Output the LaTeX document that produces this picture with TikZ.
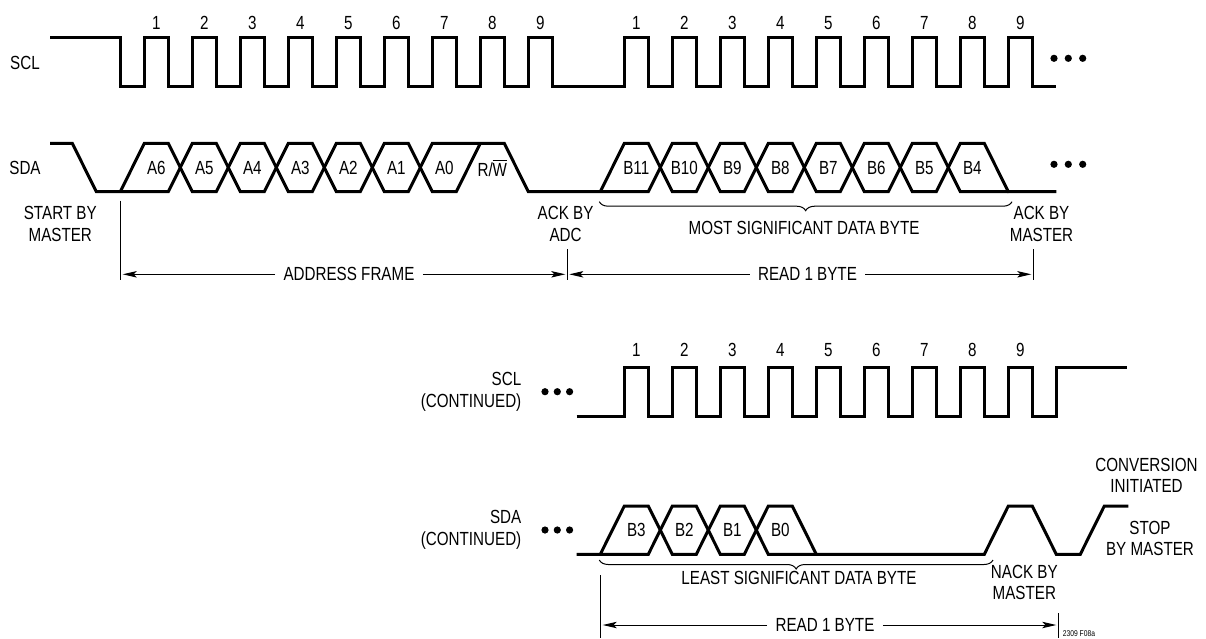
\documentclass[tikz,border=0pt]{standalone}
\usepackage{fontspec}
\setmainfont{Liberation Sans}[FakeStretch=0.8]
\usepackage{tikz}
\usetikzlibrary{arrows.meta, decorations.pathreplacing}

\newcommand{\lblfont}{\fontsize{9.5}{10.8}\selectfont}
\newcommand{\tinyfont}{\fontsize{4.2}{5}\selectfont}
% signal levels (picture units are half points, y runs downwards)
\newcommand{\topSCLh}{37.3}
\newcommand{\topSCLl}{86}
\newcommand{\topSDAh}{143.3}
\newcommand{\topSDAl}{191.7}
\newcommand{\botSCLh}{367.3}
\newcommand{\botSCLl}{416}
\newcommand{\botSDAh}{506}
\newcommand{\botSDAl}{554.3}

\begin{document}
\begin{tikzpicture}[x=0.5pt, y=-0.5pt,
  wave/.style={line width=1.5pt, line join=miter},
  dimline/.style={line width=0.5pt},
  dimarrow/.style={line width=0.5pt, shorten >=1pt, -{Stealth[length=7pt, width=3.2pt, inset=1.5pt]}},
  lbl/.style={font=\lblfont, align=center, inner sep=0pt},
  dimtext/.style={font=\lblfont, inner xsep=4pt, inner ysep=0pt},
  brc/.style={line width=0.5pt, decorate, decoration={brace, mirror, amplitude=4.5pt}}]
  \useasboundingbox (0,0) rectangle (1206,638);

  % SCL, address byte and most significant byte
  \node[lbl] (scl) at (25,63.3) {SCL};
  \draw[wave] (50,\topSCLh) -- (120.3,\topSCLh) -- (120.3,\topSCLl)
    \foreach \i in {0,1,2,3,4,5,6,7,8,10,11,12,13,14,15,16,17,18} {
      -- (144.3+48*\i,\topSCLl) -- (144.3+48*\i,\topSCLh) -- (168.3+48*\i,\topSCLh) -- (168.3+48*\i,\topSCLl)}
    -- (1056.3,\topSCLl);
  \foreach \i [count=\n] in {0,...,8} {
    \node[lbl] (clkA\n) at (156.3+48*\i,22.7) {\n};
    \node[lbl] (clkB\n) at (636.3+48*\i,22.7) {\n};
  }
  \foreach \x in {1054,1068.3,1082.7} \fill (\x,58.3) circle[radius=1.8pt];

  % SDA: start, A6..A0, R/W, ack, B11..B4
  \node[lbl] (sda) at (25,168.3) {SDA};
  \draw[wave] (50,\topSDAh) -- (72.3,\topSDAh) -- (96.3,\topSDAl) -- (168.3,\topSDAl)
    \foreach \x in {168.3,264.3,360.3} {
      -- (\x+24,\topSDAh) -- (\x+48,\topSDAh) -- (\x+72,\topSDAl) -- (\x+96,\topSDAl)}
    -- (480.3,\topSDAh);
  \draw[wave] (120.3,\topSDAl) -- (144.3,\topSDAh) -- (168.3,\topSDAh)
    \foreach \x in {168.3,264.3,360.3} {
      -- (\x+24,\topSDAl) -- (\x+48,\topSDAl) -- (\x+72,\topSDAh) -- (\x+96,\topSDAh)}
    -- (504.3,\topSDAh) -- (528.3,\topSDAl) -- (648.3,\topSDAl)
    \foreach \x in {648.3,744.3,840.3} {
      -- (\x+24,\topSDAh) -- (\x+48,\topSDAh) -- (\x+72,\topSDAl) -- (\x+96,\topSDAl)}
    -- (960.3,\topSDAh) -- (984.3,\topSDAh) -- (1008.3,\topSDAl) -- (1056.3,\topSDAl);
  \draw[wave] (600.3,\topSDAl) -- (624.3,\topSDAh) -- (648.3,\topSDAh)
    \foreach \x in {648.3,744.3,840.3} {
      -- (\x+24,\topSDAl) -- (\x+48,\topSDAl) -- (\x+72,\topSDAh) -- (\x+96,\topSDAh)}
    -- (960.3,\topSDAl) -- (1008.3,\topSDAl);
  \foreach \b [count=\k from 0] in {A6,A5,A4,A3,A2,A1,A0}
    \node[lbl] (bit\b) at (156.3+48*\k,168.3) {\b};
  \node[lbl] (bitRW) at (492.3,168.3) {R/$\overline{\hbox{W}}$};
  \foreach \b [count=\k from 0] in {B11,B10,B9,B8,B7,B6,B5,B4}
    \node[lbl] (bit\b) at (636.3+48*\k,168.3) {\b};
  \foreach \x in {1054,1068.3,1082.7} \fill (\x,164.3) circle[radius=1.8pt];

  % labels under SDA
  \node[lbl] (startlbl) at (60.3,224.2) {START BY\\MASTER};
  \node[lbl] (acklbl) at (565.6,224.2) {ACK BY\\ADC};
  \node[lbl] (msblbl) at (804,228.3) {MOST SIGNIFICANT DATA BYTE};
  \node[lbl] (ackmlbl) at (1041.5,224.2) {ACK BY\\MASTER};
  \coordinate (msbL) at (599.3,201.7);
  \coordinate (msbR) at (1012,201.7);
  \draw[brc] (msbL) -- (msbR);

  % frame dimensions
  \coordinate (extA0) at (120.7,200.7);  \coordinate (extA1) at (120.7,280);
  \coordinate (extB0) at (567.3,249.3);  \coordinate (extB1) at (567.3,280);
  \coordinate (extC0) at (1033.3,249.3); \coordinate (extC1) at (1033.3,280);
  \draw[dimline] (extA0) -- (extA1);
  \draw[dimline] (extB0) -- (extB1);
  \draw[dimline] (extC0) -- (extC1);
  \coordinate (tipA) at (120.7,274.3);
  \coordinate (tipB) at (567.3,274.3);
  \coordinate (tipC) at (1033.3,274.3);
  \node[dimtext] (addr) at (349,274.3) {ADDRESS FRAME};
  \draw[dimarrow] (addr.west) -- (tipA);
  \draw[dimarrow] (addr.east) -- (tipB);
  \node[dimtext] (readA) at (807.5,274.3) {READ 1 BYTE};
  \draw[dimarrow] (readA.west) -- (tipB);
  \draw[dimarrow] (readA.east) -- (tipC);

  % SCL continued
  \node[lbl, align=right, anchor=east] (sclc) at (521.7,391.7) {SCL\\(CONTINUED)};
  \foreach \x in {545,557.3,569.6} \fill (\x,391.7) circle[radius=1.8pt];
  \draw[wave] (576.7,\botSCLl)
    \foreach \i in {0,...,8} {
      -- (624.3+48*\i,\botSCLl) -- (624.3+48*\i,\botSCLh) -- (648.3+48*\i,\botSCLh) -- (648.3+48*\i,\botSCLl)}
    -- (1056.3,\botSCLl) -- (1056.3,\botSCLh) -- (1127,\botSCLh);
  \foreach \i [count=\n] in {0,...,8}
    \node[lbl] (clkC\n) at (636.3+48*\i,350) {\n};

  % SDA continued: B3..B0, nack, stop
  \node[lbl, align=right, anchor=east] (sdac) at (521.7,530) {SDA\\(CONTINUED)};
  \foreach \x in {545,557.3,569.6} \fill (\x,530) circle[radius=1.8pt];
  \draw[wave] (576.7,\botSDAl) -- (648.3,\botSDAl) -- (672.3,\botSDAh) -- (696.3,\botSDAh)
    -- (720.3,\botSDAl) -- (744.3,\botSDAl) -- (768.3,\botSDAh) -- (792.3,\botSDAh)
    -- (816.3,\botSDAl) -- (984.3,\botSDAl) -- (1008.3,\botSDAh) -- (1032.3,\botSDAh)
    -- (1056.3,\botSDAl) -- (1080.3,\botSDAl) -- (1104.3,\botSDAh) -- (1128.3,\botSDAh);
  \draw[wave] (600.3,\botSDAl) -- (624.3,\botSDAh) -- (648.3,\botSDAh) -- (672.3,\botSDAl)
    -- (696.3,\botSDAl) -- (720.3,\botSDAh) -- (744.3,\botSDAh) -- (768.3,\botSDAl) -- (816.3,\botSDAl);
  \foreach \b [count=\k from 0] in {B3,B2,B1,B0}
    \node[lbl] (bit\b) at (636.3+48*\k,530) {\b};

  % labels round the stop
  \node[lbl] (convlbl) at (1146.5,475.5) {CONVERSION\\INITIATED};
  \node[lbl] (stoplbl) at (1150,538.3) {STOP\\BY MASTER};
  \node[lbl] (nacklbl) at (1024.3,582.5) {NACK BY\\MASTER};
  \node[lbl] (lsblbl) at (799,578.3) {LEAST SIGNIFICANT DATA BYTE};
  \coordinate (lsbL) at (599.3,560);
  \coordinate (lsbR) at (993,560);
  \draw[brc] (lsbL) -- (lsbR);

  % last byte dimension
  \coordinate (extD0) at (600.7,575);    \coordinate (extD1) at (600.7,638);
  \coordinate (extE0) at (1058.3,613.3); \coordinate (extE1) at (1058.3,638);
  \draw[dimline] (extD0) -- (extD1);
  \draw[dimline] (extE0) -- (extE1);
  \coordinate (tipD) at (600.7,625);
  \coordinate (tipE) at (1058.3,625);
  \node[dimtext] (readB) at (825,625) {READ 1 BYTE};
  \draw[dimarrow] (readB.west) -- (tipD);
  \draw[dimarrow] (readB.east) -- (tipE);
  \node[font=\tinyfont, inner sep=0pt, anchor=west] (figid) at (1062.5,633.3) {2309 F08a};
\end{tikzpicture}
\end{document}
